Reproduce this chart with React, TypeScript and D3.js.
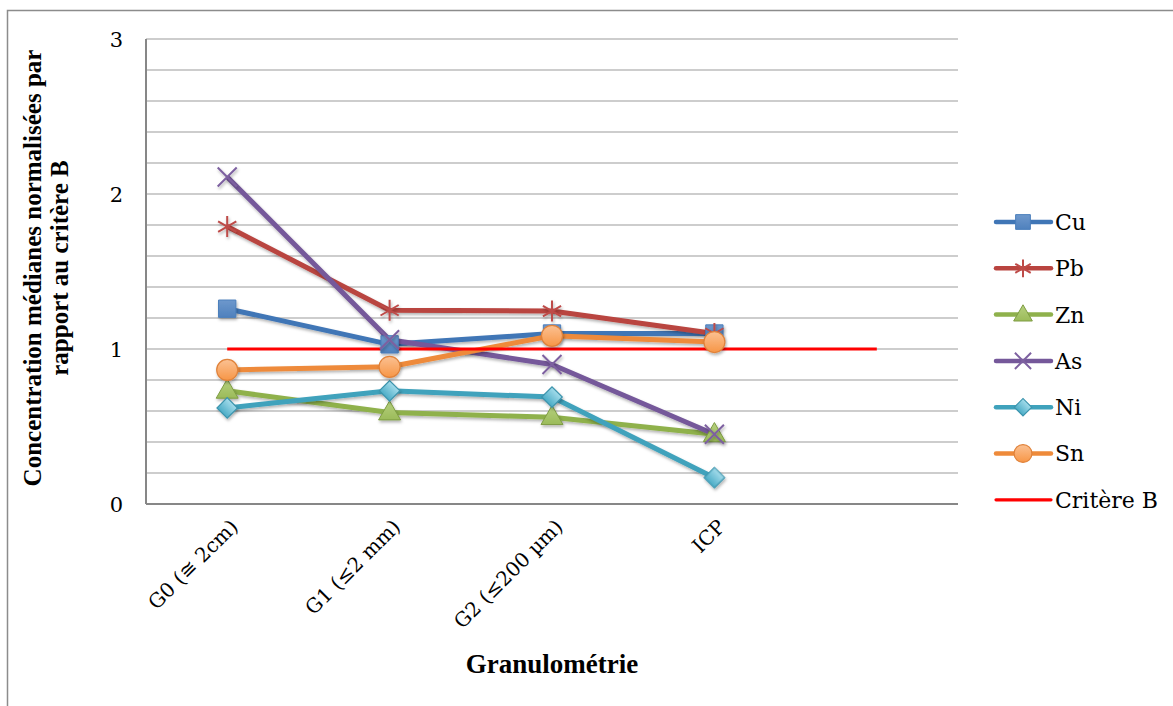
import * as d3 from "d3"

// categories on the x axis (the fifth slot is empty, only Critère B reaches it)
const categories = ["G0 (≅ 2cm)", "G1 (≤2 mm)", "G2 (≤200 µm)", "ICP", ""]

const cu = [1.26, 1.03, 1.1, 1.1]
const pb = [1.79, 1.25, 1.245, 1.1]
const zn = [0.73, 0.59, 0.56, 0.45]
const as = [2.11, 1.06, 0.9, 0.45]
const ni = [0.62, 0.73, 0.69, 0.17]
const sn = [0.865, 0.885, 1.085, 1.045]
const critereB = [1, 1, 1, 1, 1]

const yTickLabels = [0, 1, 2, 3]

type Marker = "square" | "star" | "triangle" | "cross" | "diamond" | "circle" | "none"

const series: { name: string; values: number[]; line: string; fill: string; light: string; stroke: string; marker: Marker }[] = [
  { name: "Cu", values: cu, line: "#4076B6", fill: "#4F81BD", light: "#6E98CC", stroke: "#4A7EBB", marker: "square" },
  { name: "Pb", values: pb, line: "#B9443F", fill: "none", light: "none", stroke: "#BE4B48", marker: "star" },
  { name: "Zn", values: zn, line: "#8FB14C", fill: "#9BBB59", light: "#B6D07F", stroke: "#7E9C43", marker: "triangle" },
  { name: "As", values: as, line: "#75589A", fill: "none", light: "none", stroke: "#7D60A0", marker: "cross" },
  { name: "Ni", values: ni, line: "#3FA2BC", fill: "#4BACC6", light: "#A4DCEB", stroke: "#3C94AD", marker: "diamond" },
  { name: "Sn", values: sn, line: "#EE8A3A", fill: "#F79646", light: "#FBC193", stroke: "#E0823A", marker: "circle" },
  { name: "Critère B", values: critereB, line: "#FF0000", fill: "none", light: "none", stroke: "#FF0000", marker: "none" },
]

const W = 1173
const H = 706
const plot = { left: 146, right: 958, top: 39, bottom: 504 }
const FONT = "'DejaVu Serif', Cambria, serif"
const TITLE_FONT = "'Liberation Serif', Cambria, serif"

function MarkerShape({ s, cx, cy, size = 1 }: { s: (typeof series)[number]; cx: number; cy: number; size?: number }) {
  const gid = `grad-${s.name}`
  const k = size
  if (s.marker === "square") {
    const p = d3.symbol(d3.symbolSquare, 300 * k * k)()
    return <path d={p!} transform={`translate(${cx},${cy})`} fill={`url(#${gid})`} stroke={s.stroke} strokeWidth={1} />
  }
  if (s.marker === "triangle") {
    const p = d3.symbol(d3.symbolTriangle, 210 * k * k)()
    return <path d={p!} transform={`translate(${cx},${cy + 1})`} fill={`url(#${gid})`} stroke={s.stroke} strokeWidth={1} />
  }
  if (s.marker === "diamond") {
    const p = d3.symbol(d3.symbolSquare, 210 * k * k)()
    return <path d={p!} transform={`translate(${cx},${cy}) rotate(45)`} fill={`url(#${gid})`} stroke={s.stroke} strokeWidth={1.2} />
  }
  if (s.marker === "circle") {
    return <circle cx={cx} cy={cy} r={10.5 * k} fill={`url(#${gid})`} stroke={s.stroke} strokeWidth={1.2} />
  }
  if (s.marker === "star") {
    const r = 10.5 * k
    const path = d3.path()
    for (const a of [0, 60, 120]) {
      const t = ((a + 90) * Math.PI) / 180
      path.moveTo(cx - r * Math.cos(t), cy - r * Math.sin(t))
      path.lineTo(cx + r * Math.cos(t), cy + r * Math.sin(t))
    }
    for (const a of [30, 150]) {
      const t = (a * Math.PI) / 180
      path.moveTo(cx - r * Math.cos(t), cy - r * Math.sin(t))
      path.lineTo(cx + r * Math.cos(t), cy + r * Math.sin(t))
    }
    return <path d={path.toString()} stroke={s.stroke} strokeWidth={2} fill="none" />
  }
  if (s.marker === "cross") {
    const r = 9.5 * k
    const path = d3.path()
    path.moveTo(cx - r, cy - r)
    path.lineTo(cx + r, cy + r)
    path.moveTo(cx + r, cy - r)
    path.lineTo(cx - r, cy + r)
    return <path d={path.toString()} stroke={s.stroke} strokeWidth={2} fill="none" />
  }
  return null
}

export default function App() {
  const x = d3
    .scalePoint<number>()
    .domain(categories.map((_, i) => i))
    .range([plot.left, plot.right])
    .padding(0.5)
  const y = d3.scaleLinear().domain([0, 3]).range([plot.bottom, plot.top])

  const line = d3
    .line<number>()
    .x((_, i) => x(i)!)
    .y((d) => y(d))

  const gridTicks = d3.range(0, 3.0001, 0.2)

  const legendX = 996
  const legendY0 = 222
  const legendStep = 46.3

  return (
    <svg width={W} height={H} style={{ position: "absolute", left: 0, top: 0, background: "#fff" }} fontFamily={FONT}>
      <defs>
        <filter id="shadow" x="-10%" y="-10%" width="120%" height="130%">
          <feDropShadow dx="1" dy="2" stdDeviation="1.5" floodColor="#000" floodOpacity="0.3" />
        </filter>
        {series
          .filter((s) => s.fill !== "none")
          .map((s) => (
            <linearGradient key={s.name} id={`grad-${s.name}`} x1="0" y1="0" x2="0" y2="1">
              <stop offset="0%" stopColor={s.light} />
              <stop offset="100%" stopColor={s.fill} />
            </linearGradient>
          ))}
      </defs>

      <rect x={7.5} y={10.5} width={W + 20} height={H + 20} fill="#fff" stroke="#8C8C8C" strokeWidth={1.5} />

      {/* gridlines */}
      {gridTicks.map((t) => (
        <line key={t} x1={plot.left} x2={plot.right} y1={y(t)} y2={y(t)} stroke="#BDBDBD" strokeWidth={1.6} />
      ))}

      {/* axes */}
      <line x1={plot.left} x2={plot.left} y1={plot.top} y2={plot.bottom} stroke="#878787" strokeWidth={2} />
      <line x1={plot.left} x2={plot.right} y1={plot.bottom} y2={plot.bottom} stroke="#878787" strokeWidth={2} />

      {/* y tick labels */}
      {yTickLabels.map((t) => (
        <text key={t} x={123} y={y(t)} dy="0.36em" textAnchor="end" fontSize={21} fill="#000">
          {t}
        </text>
      ))}

      {/* x tick labels */}
      {categories.map((c, i) =>
        c ? (
          <text
            key={i}
            transform={`translate(${x(i)! + 12},${plot.bottom + 24}) rotate(-45)`}
            textAnchor="end"
            fontSize={20}
            fill="#000"
          >
            {c}
          </text>
        ) : null,
      )}

      {/* axis titles */}
      <g fontFamily={TITLE_FONT} fontWeight="bold" fill="#000">
        <text transform={`translate(41,268) rotate(-90)`} textAnchor="middle" fontSize={25}>
          Concentration médianes normalisées par
        </text>
        <text transform={`translate(68,268) rotate(-90)`} textAnchor="middle" fontSize={25}>
          rapport au critère B
        </text>
        <text x={552} y={673} textAnchor="middle" fontSize={27}>
          Granulométrie
        </text>
      </g>

      {/* series lines */}
      {series
        .filter((s) => s.marker !== "none")
        .map((s) => (
          <path key={s.name} d={line(s.values)!} fill="none" stroke={s.line} strokeWidth={5} strokeLinejoin="round" filter="url(#shadow)" />
        ))}
      {series
        .filter((s) => s.marker === "none")
        .map((s) => (
          <path key={s.name} d={line(s.values)!} fill="none" stroke={s.line} strokeWidth={3.2} />
        ))}

      {/* markers */}
      {series.map((s) => (
        <g key={s.name} filter="url(#shadow)">
          {s.values.map((v, i) => (
            <MarkerShape key={i} s={s} cx={x(i)!} cy={y(v)} />
          ))}
        </g>
      ))}

      {/* legend */}
      {series.map((s, i) => {
        const ly = legendY0 + i * legendStep
        return (
          <g key={s.name}>
            <line
              x1={legendX}
              x2={legendX + 55}
              y1={ly}
              y2={ly}
              stroke={s.line}
              strokeWidth={s.marker === "none" ? 3.2 : 4.5}
              strokeLinecap="round"
            />
            <MarkerShape s={s} cx={legendX + 27} cy={ly} size={0.85} />
            <text x={legendX + 59} y={ly} dy="0.36em" fontSize={22} fill="#000">
              {s.name}
            </text>
          </g>
        )
      })}
    </svg>
  )
}
